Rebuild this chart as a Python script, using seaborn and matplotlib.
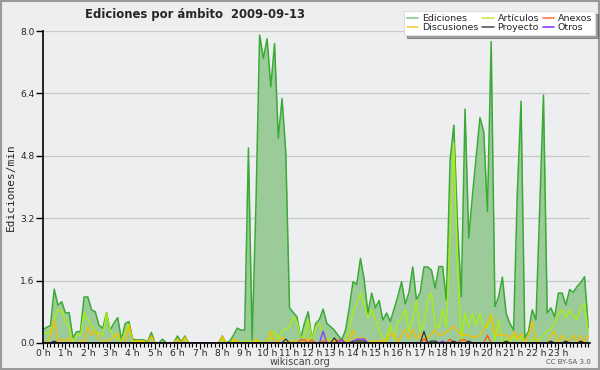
import numpy as np
import matplotlib
matplotlib.use('Agg')
import matplotlib.pyplot as plt
from matplotlib.lines import Line2D
from matplotlib.patches import Rectangle
from matplotlib.ticker import MultipleLocator, FixedLocator
import seaborn as sns

TITLE = 'Ediciones por ámbito  2009-09-13'
HOUR_LABELS = [f'{h} h' for h in range(24)]
Y_TICKS = [0.0, 1.6, 3.2, 4.8, 6.4, 8.0]

# one value every 10 minutes, edits per minute
ediciones = [
    0.35, 0.40, 0.45, 1.38, 0.97, 1.06, 0.77, 0.78, 0.13, 0.29, 0.29, 1.18,
    1.18, 0.85, 0.80, 0.45, 0.38, 0.78, 0.33, 0.51, 0.65, 0.08, 0.50, 0.55,
    0.10, 0.08, 0.08, 0.08, 0.03, 0.27, 0.00, 0.00, 0.10, 0.00, 0.00, 0.00,
    0.18, 0.03, 0.18, 0.00, 0.00, 0.00, 0.00, 0.00, 0.00, 0.00, 0.00, 0.00,
    0.18, 0.00, 0.05, 0.20, 0.38, 0.33, 0.33, 5.00, 0.08, 3.50, 7.90, 7.30,
    7.80, 6.57, 7.68, 5.25, 6.27, 4.90, 0.90, 0.78, 0.67, 0.13, 0.51, 0.80,
    0.08, 0.50, 0.60, 0.87, 0.50, 0.42, 0.33, 0.20, 0.08, 0.33, 0.90, 1.57,
    1.50, 2.17, 1.62, 0.77, 1.28, 0.90, 1.09, 0.59, 0.77, 0.55, 0.87, 1.19,
    1.57, 1.00, 1.30, 1.95, 1.10, 1.30, 1.95, 1.95, 1.87, 1.41, 1.96, 1.96,
    1.10, 4.69, 5.59, 3.00, 1.19, 6.00, 2.69, 3.80, 4.80, 5.78, 5.42, 3.37,
    7.73, 0.93, 1.19, 1.69, 0.76, 0.50, 0.33, 3.84, 6.20, 0.13, 0.30, 0.85,
    0.59, 3.50, 6.36, 0.77, 0.90, 0.67, 1.28, 1.28, 0.97, 1.37, 1.30, 1.45,
    1.55, 1.70, 0.40,
]
articulos = [
    0.25, 0.26, 0.30, 0.60, 0.87, 0.83, 0.55, 0.40, 0.03, 0.20, 0.20, 0.78,
    0.60, 0.45, 0.30, 0.25, 0.20, 0.77, 0.33, 0.20, 0.10, 0.05, 0.30, 0.48,
    0.05, 0.05, 0.05, 0.05, 0.00, 0.15, 0.00, 0.00, 0.00, 0.00, 0.00, 0.00,
    0.10, 0.00, 0.10, 0.00, 0.00, 0.00, 0.00, 0.00, 0.00, 0.00, 0.00, 0.00,
    0.10, 0.00, 0.00, 0.05, 0.05, 0.00, 0.05, 0.05, 0.00, 0.05, 0.05, 0.00,
    0.05, 0.10, 0.30, 0.10, 0.30, 0.35, 0.40, 0.67, 0.55, 0.15, 0.15, 0.60,
    0.08, 0.40, 0.50, 0.25, 0.10, 0.10, 0.05, 0.00, 0.00, 0.10, 0.33, 0.80,
    1.00, 1.28, 1.00, 0.65, 0.85, 0.60, 0.33, 0.10, 0.10, 0.45, 0.10, 0.55,
    0.60, 0.85, 0.30, 0.60, 1.10, 0.30, 0.50, 1.10, 1.28, 0.42, 0.40, 0.85,
    0.40, 2.80, 5.13, 2.00, 0.05, 0.76, 0.40, 0.76, 0.45, 0.76, 0.45, 0.40,
    0.76, 0.05, 0.60, 0.00, 0.10, 0.00, 0.20, 0.05, 0.15, 0.00, 0.00, 0.10,
    0.10, 0.08, 0.20, 0.30, 0.35, 0.50, 0.76, 0.85, 0.65, 0.85, 0.70, 0.60,
    0.90, 1.00, 0.30,
]
discusiones = [
    0.00, 0.00, 0.20, 0.59, 0.00, 0.10, 0.05, 0.13, 0.00, 0.00, 0.05, 0.05,
    0.43, 0.20, 0.30, 0.13, 0.00, 0.05, 0.10, 0.15, 0.25, 0.00, 0.00, 0.43,
    0.05, 0.05, 0.05, 0.05, 0.00, 0.18, 0.00, 0.00, 0.00, 0.00, 0.00, 0.00,
    0.10, 0.00, 0.15, 0.00, 0.00, 0.00, 0.00, 0.00, 0.00, 0.00, 0.00, 0.00,
    0.17, 0.00, 0.00, 0.10, 0.05, 0.00, 0.00, 0.00, 0.00, 0.10, 0.00, 0.00,
    0.05, 0.30, 0.00, 0.05, 0.15, 0.05, 0.00, 0.08, 0.00, 0.00, 0.05, 0.12,
    0.00, 0.00, 0.00, 0.00, 0.10, 0.00, 0.05, 0.00, 0.00, 0.05, 0.05, 0.33,
    0.05, 0.13, 0.13, 0.00, 0.05, 0.05, 0.05, 0.05, 0.05, 0.25, 0.20, 0.00,
    0.20, 0.35, 0.10, 0.35, 0.10, 0.25, 0.10, 0.15, 0.20, 0.35, 0.20, 0.22,
    0.28, 0.35, 0.43, 0.30, 0.20, 0.20, 0.20, 0.15, 0.15, 0.20, 0.35, 0.50,
    0.72, 0.25, 0.20, 0.20, 0.20, 0.10, 0.28, 0.10, 0.25, 0.00, 0.20, 0.55,
    0.05, 0.00, 0.00, 0.00, 0.20, 0.30, 0.00, 0.20, 0.05, 0.10, 0.20, 0.00,
    0.20, 0.00, 0.20,
]
# sparse series: slot index -> value, everything else is zero
anexos_pts = {69: 0.08, 70: 0.08, 72: 0.08, 75: 0.05, 79: 0.08, 80: 0.08,
              102: 0.10, 109: 0.10, 112: 0.08, 113: 0.08, 119: 0.20}
proyecto_pts = {3: 0.05, 65: 0.10, 78: 0.13, 83: 0.05, 84: 0.05, 85: 0.05,
                86: 0.05, 102: 0.30, 104: 0.05, 105: 0.05, 110: 0.05,
                114: 0.05, 124: 0.05, 136: 0.05, 140: 0.05, 144: 0.05}
otros_pts = {75: 0.30, 80: 0.08, 84: 0.10, 85: 0.10, 86: 0.10, 107: 0.05}

n = len(ediciones)
hours = np.arange(n) / 6.0


def sparse(pts):
    return [pts.get(i, 0.0) for i in range(n)]


anexos = sparse(anexos_pts)
proyecto = sparse(proyecto_pts)
otros = sparse(otros_pts)

BG = '#edeef0'
sns.set_style('white')
plt.rcParams['font.family'] = ['DejaVu Sans']

fig = plt.figure(figsize=(6, 3.7), dpi=100, facecolor=BG)
ax = fig.add_axes([0.0717, 0.073, 0.912, 0.843])
ax.set_facecolor(BG)

ax.fill_between(hours, ediciones, color='#9ccb9a', lw=0, zorder=1)
sns.lineplot(x=hours, y=ediciones, color='#3aaa35', lw=1.1, ax=ax, zorder=3)
sns.lineplot(x=hours, y=articulos, color='#aaee11', lw=1.0, ax=ax, zorder=3)
sns.lineplot(x=hours, y=discusiones, color='#f2c000', lw=1.0, ax=ax, zorder=3)
sns.lineplot(x=hours, y=anexos, color='#ff5a1a', lw=1.0, ax=ax, zorder=3)
sns.lineplot(x=hours, y=proyecto, color='#333333', lw=0.9, ax=ax, zorder=3)
sns.lineplot(x=hours, y=otros, color='#8a3cff', lw=1.0, ax=ax, zorder=3)

ax.set_xlim(0, 24.42)
ax.set_ylim(0, 8.0)
ax.yaxis.set_major_locator(FixedLocator(Y_TICKS))
ax.set_yticklabels([f'{v:.1f}' for v in Y_TICKS], fontsize=6.5)
ax.set_xticks(range(24))
ax.set_xticklabels(HOUR_LABELS, fontsize=6.6)
ax.xaxis.set_minor_locator(MultipleLocator(1 / 6))
ax.tick_params(axis='x', which='both', bottom=True, direction='out',
               width=0.8, color='black')
ax.tick_params(axis='x', which='major', length=4, pad=0)
ax.tick_params(axis='x', which='minor', length=3)
ax.tick_params(axis='y', which='major', left=True, direction='out',
               length=5, width=1, pad=1, color='black')
ax.grid(axis='y', color='#c8c8c8', lw=0.9, zorder=0)
ax.set_axisbelow(True)
for side in ['top', 'right']:
    ax.spines[side].set_visible(False)
for side in ['left', 'bottom']:
    ax.spines[side].set_color('black')
    ax.spines[side].set_linewidth(1.2)
    ax.spines[side].set_zorder(4)

ax.set_ylabel('Ediciones/min', fontsize=8, family='DejaVu Sans Mono',
              labelpad=3)
ax.set_xlabel('')

fig.text(0.142, 0.962, TITLE, fontsize=8.4, fontweight='bold', va='center')
fig.text(0.5, 0.022, 'wikiscan.org', fontsize=7, color='#444444',
         ha='center', va='center')
fig.text(0.985, 0.022, 'CC BY-SA 3.0', fontsize=5, color='#555555',
         ha='right', va='center')

handles = [
    Line2D([], [], color='#88cc88', lw=1.2, label='Ediciones'),
    Line2D([], [], color='#f2d040', lw=1.2, label='Discusiones'),
    Line2D([], [], color='#c8ee55', lw=1.2, label='Artículos'),
    Line2D([], [], color='#555555', lw=1.2, label='Proyecto'),
    Line2D([], [], color='#ff7a4a', lw=1.2, label='Anexos'),
    Line2D([], [], color='#8a3cff', lw=1.2, label='Otros'),
]
leg = fig.legend(handles=handles, ncol=3, loc='upper right',
                 bbox_to_anchor=(0.995, 0.975), fontsize=6.8,
                 frameon=True, fancybox=False, shadow=True,
                 handlelength=1.2, handletextpad=0.4, columnspacing=0.4,
                 labelspacing=0.05, borderpad=0.3, borderaxespad=0.2)
leg.get_frame().set_edgecolor('#dddddd')
leg.get_frame().set_facecolor('white')
leg.get_frame().set_linewidth(0.8)

fig.patches.append(Rectangle((0.0015, 0.0025), 0.997, 0.995,
                             transform=fig.transFigure, fill=False,
                             edgecolor='#9a9a9a', lw=1.5))

fig.savefig('out.png', dpi=100, facecolor=BG)
